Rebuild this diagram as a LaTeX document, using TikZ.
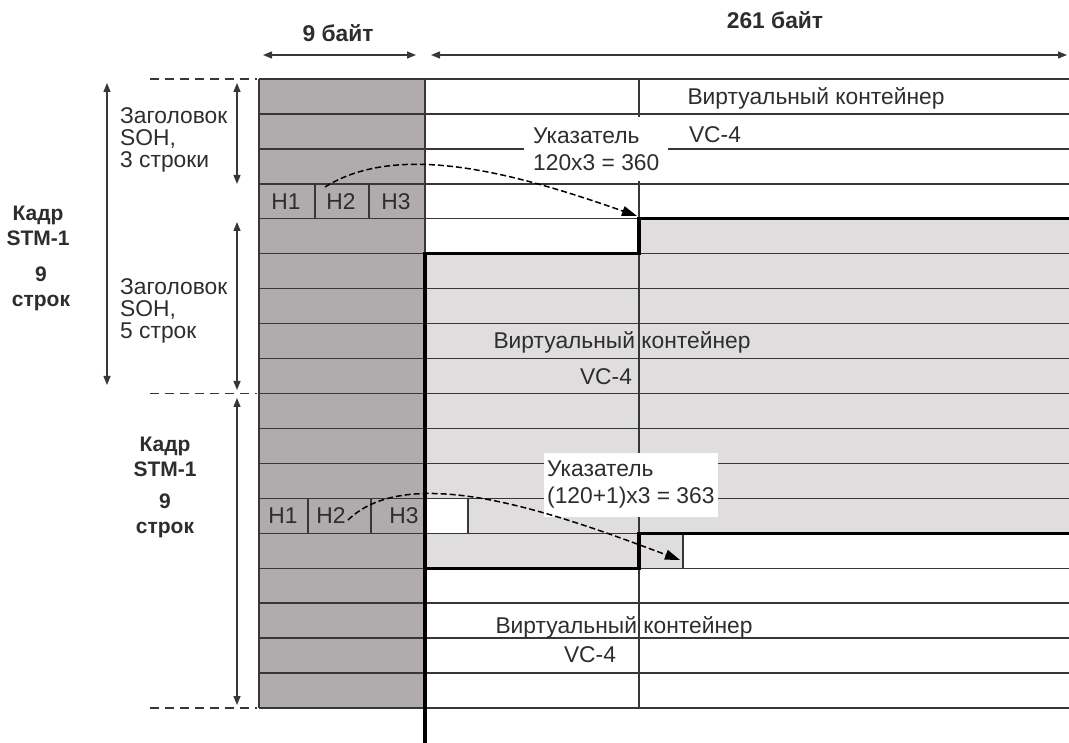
\documentclass[tikz,border=0pt]{standalone}
\usepackage{fontspec}
\setmainfont{Liberation Sans}
\usetikzlibrary{arrows.meta,positioning}
\definecolor{sohgray}{RGB}{176,172,173}
\definecolor{vcgray}{RGB}{224,221,222}
\definecolor{gridcolor}{RGB}{55,55,55}
\definecolor{textcolor}{RGB}{45,45,45}
\def\rh{34.944}

\begin{document}
\begin{tikzpicture}[x=1pt,y=-1pt,
    gridline/.style={draw=gridcolor, line width=1.4pt},
    frameline/.style={draw=black, line width=3.2pt},
    txt/.style={font=\fontsize{22.8}{26}\selectfont, text=textcolor, inner sep=0pt},
    boldtxt/.style={font=\bfseries\fontsize{21}{25}\selectfont, text=textcolor, align=center, inner sep=0pt},
    toptxt/.style={font=\bfseries\fontsize{22.8}{26}\selectfont, text=textcolor, inner sep=0pt},
    sohtxt/.style={font=\fontsize{22.8}{22}\selectfont, text=textcolor, align=left, inner sep=0pt},
    ptrbox/.style={fill=white, inner ysep=0pt, minimum height=64pt, align=left, text=textcolor, font=\fontsize{22.8}{27}\selectfont, anchor=west},
    dimarrow/.style={{Triangle[length=9pt,width=7pt]}-{Triangle[length=9pt,width=7pt]}, line width=1.4pt, draw=gridcolor},
    guideline/.style={draw=gridcolor, line width=1.4pt, dash pattern=on 9pt off 6pt},
    ptrarrow/.style={-{Triangle[length=15pt,width=10pt]}, line width=1.5pt, dash pattern=on 6pt off 3pt}
  ]
  \useasboundingbox (0,0) rectangle (1069,743);

  % fills
  \fill[sohgray] (259,79) rectangle (425,708);
  \fill[vcgray] (639,{79+4*\rh}) -- (1069,{79+4*\rh}) -- (1069,{79+13*\rh}) -- (683,{79+13*\rh})
    -- (683,{79+14*\rh}) -- (425,{79+14*\rh}) -- (425,{79+5*\rh}) -- (639,{79+5*\rh}) -- cycle;
  \fill[white] (425,{79+12*\rh}) rectangle (468,{79+13*\rh});

  % grid
  \foreach \k in {0,...,18}
    \draw[gridline] (259,{79+\k*\rh}) -- (1069,{79+\k*\rh});
  \foreach \x in {259,425,639}
    \draw[gridline] (\x,79) -- (\x,708);
  \draw[gridline] (468,{79+12*\rh}) -- (468,{79+13*\rh});
  \draw[gridline] (683,{79+13*\rh}) -- (683,{79+14*\rh});

  % pointer bytes
  \foreach \x in {315,369}
    \draw[gridline] (\x,{79+3*\rh}) -- (\x,{79+4*\rh});
  \foreach \x in {308,371}
    \draw[gridline] (\x,{79+12*\rh}) -- (\x,{79+13*\rh});
  \node[txt] (h1a) at (286,{79+3.5*\rh}) {H1};
  \node[txt] (h2a) at (341,{79+3.5*\rh}) {H2};
  \node[txt] (h3a) at (396,{79+3.5*\rh}) {H3};
  \node[txt] (h1b) at (283,{79+12.5*\rh}) {H1};
  \node[txt] (h2b) at (331,{79+12.5*\rh}) {H2};
  \node[txt] (h3b) at (404,{79+12.5*\rh}) {H3};

  % VC-4 borders
  \draw[frameline] (1069,{79+4*\rh}) -| (639,{79+5*\rh}) -| (425,743);
  \draw[frameline] (1069,{79+13*\rh}) -| (639,{79+14*\rh}) -- (425,{79+14*\rh});

  % container labels
  \node[txt] (vctop) at (816,98) {Виртуальный контейнер};
  \node[txt] (vctopname) at (715,135) {VC-4};
  \node[txt] (vcmid) at (622,342) {Виртуальный контейнер};
  \node[txt] (vcmidname) at (606,377) {VC-4};
  \node[txt] (vcbot) at (624,627) {Виртуальный контейнер};
  \node[txt] (vcbotname) at (590,655) {VC-4};

  % pointer labels and arrows
  \node[ptrbox, inner xsep=9pt] (ptrA) at (524,149) {Указатель\\120x3 = 360};
  \node[ptrbox, inner xsep=3.5pt] (ptrB) at (543.5,485) {Указатель\\(120+1)x3 = 363};
  \coordinate (srcA) at (325,187);
  \coordinate (dstA) at (637,216);
  \draw[ptrarrow] (srcA) .. controls (400,140) and (520,175) .. (dstA);
  \coordinate (srcB) at (348,520);
  \coordinate (dstB) at (680,560);
  \draw[ptrarrow] (srcB) .. controls (410,460) and (560,515) .. (dstB);

  % frame boundaries
  \foreach \k/\n in {0/gtop,9/gmid,18/gbot} {
    \coordinate (\n l) at (150,{79+\k*\rh});
    \coordinate (\n r) at (257,{79+\k*\rh});
    \draw[guideline] (\n l) -- (\n r);
  }

  % dimension arrows
  \coordinate (frmtop) at (107,83);
  \coordinate (frmbot) at (107,385);
  \draw[dimarrow] (frmtop) -- (frmbot);
  \coordinate (sohAtop) at (237,83);
  \coordinate (sohAbot) at (237,184);
  \draw[dimarrow] (sohAtop) -- (sohAbot);
  \coordinate (sohBtop) at (237,222);
  \coordinate (sohBbot) at (237,390);
  \draw[dimarrow] (sohBtop) -- (sohBbot);
  \coordinate (frm2top) at (237,398);
  \coordinate (frm2bot) at (237,705);
  \draw[dimarrow] (frm2top) -- (frm2bot);
  \coordinate (colAl) at (263,55);
  \coordinate (colAr) at (416,55);
  \draw[dimarrow] (colAl) -- (colAr);
  \coordinate (colBl) at (431,55);
  \coordinate (colBr) at (1067,55);
  \draw[dimarrow] (colBl) -- (colBr);

  % side labels
  \node[sohtxt, anchor=west] (sohA) at (120,140) {Заголовок\\SOH,\\3 строки};
  \node[sohtxt, anchor=west] (sohB) at (120,311) {Заголовок\\SOH,\\5 строк};
  \node[boldtxt] (frameA) at (38,226) {Кадр\\STM-1};
  \node[boldtxt] (rowsA) at (41,289) {9\\строк};
  \node[boldtxt] (frameB) at (165,457) {Кадр\\STM-1};
  \node[boldtxt] (rowsB) at (165,516) {9\\строк};
  \node[toptxt] (colsA) at (338,33) {9 байт};
  \node[toptxt] (colsB) at (775,20) {261 байт};
\end{tikzpicture}
\end{document}
